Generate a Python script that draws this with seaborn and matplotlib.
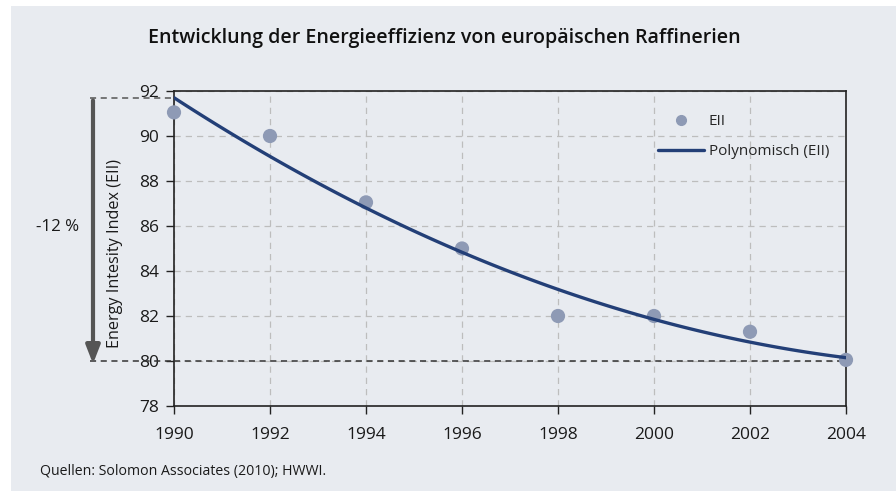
import numpy as np
import pandas as pd
import seaborn as sns
import matplotlib.pyplot as plt
from matplotlib.patches import Rectangle
from matplotlib.lines import Line2D

years = [1990, 1992, 1994, 1996, 1998, 2000, 2002, 2004]
eii = [91.05, 90.0, 87.05, 85.0, 82.0, 82.0, 81.3, 80.05]
y_ticks = [78, 80, 82, 84, 86, 88, 90, 92]
x_ticks = [1990, 1992, 1994, 1996, 1998, 2000, 2002, 2004]

title = "Entwicklung der Energieeffizienz von europäischen Raffinerien"
ylabel = "Energy Intesity Index (EII)"
source = "Quellen: Solomon Associates (2010); HWWI."
pct_label = "-12 %"
legend_labels = ["EII", "Polynomisch (EII)"]

df = pd.DataFrame({"Jahr": years, "EII": eii})

sns.set_theme(style="white")
plt.rcParams['font.family'] = ['Open Sans', 'DejaVu Sans']

bg = "#E8EBF0"
fig = plt.figure(figsize=(8.96, 4.93), dpi=100, facecolor="white")
fig.patches.append(Rectangle((11 / 896, 0.004), 1 - 11 / 896, 1 - 6 / 493 - 0.004,
                             transform=fig.transFigure, facecolor=bg,
                             edgecolor="none", zorder=-10))
renderer = fig.canvas.get_renderer()


def fit_size(s, target_px, weight="normal", base=10.0):
    t = fig.text(0, 0, s, fontsize=base, fontweight=weight)
    w = t.get_window_extent(renderer).width
    t.remove()
    return base * target_px / w


ax = fig.add_axes([174 / 896, 1 - 406 / 493, (846 - 174) / 896, (406 - 91) / 493])
ax.set_facecolor(bg)

marker_col = "#8E9AB5"
line_col = "#233F77"

sns.scatterplot(data=df, x="Jahr", y="EII", ax=ax, color=marker_col, s=105,
                edgecolor="none", zorder=4, clip_on=False, legend=False)
sns.regplot(data=df, x="Jahr", y="EII", ax=ax, order=2, ci=None, scatter=False,
            truncate=True, line_kws=dict(color=line_col, lw=2.4, zorder=5))

coef = np.polyfit(df["Jahr"], df["EII"], 2)
start_val = np.polyval(coef, years[0])

tick_size = fit_size("1990", 40)

ax.set_xlim(1990, 2004)
ax.set_ylim(78, 92)
ax.set_xticks(x_ticks)
ax.set_yticks(y_ticks)
ax.set_xlabel("")
ax.set_ylabel("")
ax.grid(True, color="#BDBDBD", linestyle=(0, (5, 4)), lw=0.9)
for s in ax.spines.values():
    s.set_color("#222222")
    s.set_linewidth(1.2)
    s.set_visible(True)
ax.tick_params(axis="both", which="both", length=6, width=1.0, color="#222222",
               labelsize=tick_size, labelcolor="#1a1a1a", direction="out",
               left=True, bottom=True)
ax.tick_params(axis="y", pad=5)
ax.tick_params(axis="x", pad=9)

# dashed reference lines and arrow
ax.axhline(80, color="#333333", ls=(0, (4, 3)), lw=1.1, zorder=3)
x_arrow = 1990 - (174 - 93) / (672 / 14)
x_left = 1990 - (174 - 90) / (672 / 14)
ax.plot([x_left, 1990], [start_val, start_val], color="#555555", ls=(0, (4, 3)),
        lw=1.1, clip_on=False)
ax.plot([x_left, 1990], [80, 80], color="#333333", ls=(0, (4, 3)),
        lw=1.1, clip_on=False)
ax.annotate("", xy=(x_arrow, 79.75), xytext=(x_arrow, start_val),
            arrowprops=dict(arrowstyle="-|>,head_width=0.35,head_length=0.9",
                            color="#555555", lw=3), annotation_clip=False)

fig.text(58 / 896, 1 - 227 / 493, pct_label, ha="center", va="center",
         fontsize=fit_size(pct_label, 43), color="#1a1a1a")
fig.text(115 / 896, 1 - 254 / 493, ylabel, ha="center", va="center",
         rotation=90, fontsize=fit_size(ylabel, 188), color="#1a1a1a")
fig.text(444 / 896, 1 - 38 / 493, title, ha="center", va="center",
         fontsize=fit_size(title, 590, weight="semibold"), fontweight="semibold",
         color="#111111")
fig.text(40 / 896, 1 - 472 / 493, source, ha="left", va="center",
         fontsize=fit_size(source, 285), color="#1a1a1a")

handles = [Line2D([], [], marker="o", ls="none", color=marker_col, markersize=7),
           Line2D([], [], color=line_col, lw=2.4)]
ax.legend(handles, legend_labels, loc="upper right",
          bbox_to_anchor=(0.995, 0.97), frameon=False,
          fontsize=fit_size(legend_labels[1], 120),
          handlelength=3.0, labelspacing=1.0, handletextpad=0.3)

fig.savefig("out.png", dpi=100, facecolor="white")
